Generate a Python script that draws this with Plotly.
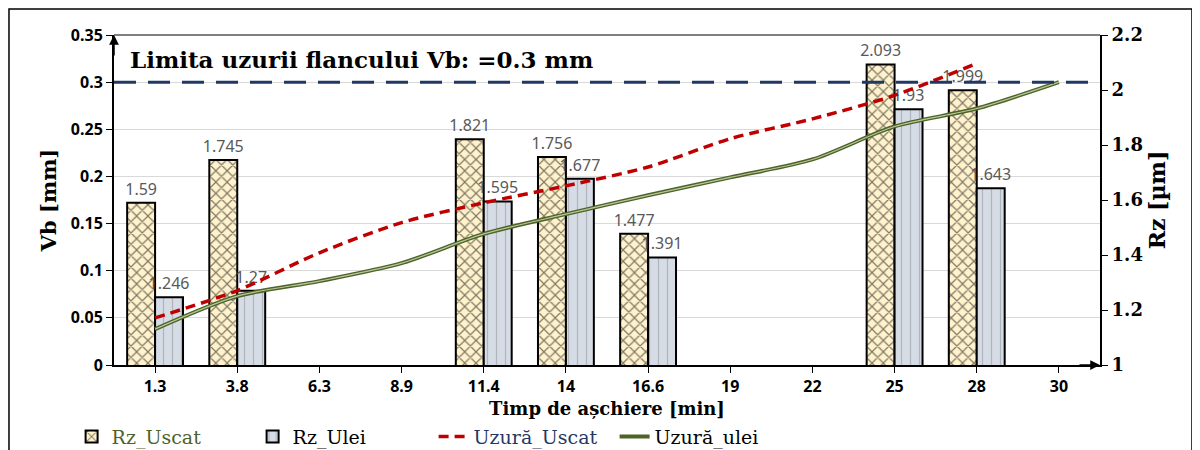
import plotly.graph_objects as go

categories = ["1.3", "3.8", "6.3", "8.9", "11.4", "14", "16.6", "19", "22", "25", "28", "30"]
rz_uscat = [1.59, 1.745, None, None, 1.821, 1.756, 1.477, None, None, 2.093, 1.999, None]
rz_ulei = [1.246, 1.27, None, None, 1.595, 1.677, 1.391, None, None, 1.93, 1.643, None]
uzura_uscat = [0.05, 0.079, 0.119, 0.151, 0.172, 0.19, 0.21, 0.24, 0.261, 0.286, 0.32, None]
uzura_ulei = [0.038, 0.073, 0.089, 0.108, 0.139, 0.16, 0.18, 0.199, 0.218, 0.253, 0.272, 0.30]
vb_limit = 0.3

SERIF = "DejaVu Serif"
SANS = "Noto Sans"

fig = go.Figure()

fig.add_trace(go.Bar(
    x=categories, y=rz_uscat, yaxis="y2",
    name="<span style='color:#4F6228'>Rz_Uscat</span>",
    marker=dict(color="#FFF2CC", line=dict(color="black", width=2),
                pattern=dict(shape="x", fgcolor="black", bgcolor="#FFF2CC", size=8, solidity=0.28)),
    text=[("%g" % v) if v is not None else "" for v in rz_uscat],
    textposition="outside", cliponaxis=False, constraintext="none",
    textfont=dict(family=SANS, size=16, color="#595959"),
))
fig.add_trace(go.Bar(
    x=categories, y=rz_ulei, yaxis="y2",
    name="Rz_Ulei",
    marker=dict(color="#D6DCE5", line=dict(color="black", width=2),
                pattern=dict(shape="|", fgcolor="#8C8C8C", bgcolor="#D6DCE5", size=9, solidity=0.14)),
    text=[("%g" % v) if v is not None else "" for v in rz_ulei],
    textposition="outside", cliponaxis=False, constraintext="none",
    textfont=dict(family=SANS, size=16, color="#595959"),
))
fig.add_trace(go.Scatter(
    x=categories, y=uzura_uscat, yaxis="y", mode="lines",
    name="<span style='color:#1F3864'>Uzură_Uscat</span>",
    line=dict(color="#C00000", width=3.5, dash="10px,6px", shape="spline", smoothing=0.8),
))
fig.add_trace(go.Scatter(
    x=categories, y=uzura_ulei, yaxis="y", mode="lines",
    name="Uzură_ulei",
    line=dict(color="#4F6228", width=4, shape="spline", smoothing=0.8),
))
fig.add_trace(go.Scatter(
    x=categories, y=uzura_ulei, yaxis="y", mode="lines",
    showlegend=False, hoverinfo="skip",
    line=dict(color="#B5C99A", width=1.2, shape="spline", smoothing=0.8),
))

fig.update_layout(
    width=1186, height=442,
    margin=dict(l=106, r=94, t=27, b=85, autoexpand=False),
    paper_bgcolor="white", plot_bgcolor="white",
    barmode="group", bargap=0.32, bargroupgap=0,
    xaxis=dict(
        type="category", showline=True, linecolor="black", linewidth=2,
        ticks="outside", ticklen=6, tickcolor="black", automargin=False,
        tickfont=dict(family=SANS, size=16, color="black", weight="bold"),
        title=dict(text="Timp de așchiere [min]", standoff=6,
                   font=dict(family=SERIF, size=18, color="black", weight="bold")),
    ),
    yaxis2=dict(
        range=[1, 2.2], dtick=0.2, side="right", anchor="x", automargin=False,
        showline=True, linecolor="black", linewidth=2,
        ticks="outside", ticklen=6, tickcolor="black", showgrid=False, zeroline=False,
        tickfont=dict(family=SERIF, size=18, color="black", weight="bold"),
        title=dict(text="Rz [µm]", standoff=8,
                   font=dict(family=SERIF, size=22, color="black", weight="bold")),
    ),
    yaxis=dict(
        range=[0, 0.35], dtick=0.05, overlaying="y2", side="left", automargin=False,
        showline=True, linecolor="black", linewidth=2,
        ticks="outside", ticklen=6, tickcolor="black",
        showgrid=True, gridcolor="#D9D9D9", gridwidth=1, zeroline=False,
        tickfont=dict(family=SANS, size=16, color="black", weight="bold"),
        title=dict(text="Vb [mm]", standoff=8,
                   font=dict(family=SERIF, size=21, color="black", weight="bold")),
    ),
    legend=dict(
        orientation="h", x=-0.043, xanchor="left", y=-0.275, yanchor="bottom",
        font=dict(family=SERIF, size=19, color="black"),
        entrywidth=136, bgcolor="rgba(0,0,0,0)",
    ),
    showlegend=True,
)

# limit line at Vb = 0.3
fig.add_shape(type="line", xref="paper", yref="y", x0=0, x1=1, y0=vb_limit, y1=vb_limit,
              line=dict(color="#1F3864", width=3, dash="22px,12px"), layer="above")
# top border of plot area
fig.add_shape(type="line", xref="paper", yref="paper", x0=0, x1=1, y0=1, y1=1,
              line=dict(color="black", width=1))
# outer chart frame
fig.add_shape(type="rect", xref="paper", yref="paper", x0=-0.1065, x1=1.0933, y0=-0.35, y1=1.0788,
              line=dict(color="black", width=1.5), fillcolor="rgba(0,0,0,0)")

fig.add_annotation(text="Limita uzurii flancului Vb: =0.3 mm", xref="paper", yref="y",
                   x=0.014, y=0.3235, xanchor="left", yanchor="middle", showarrow=False,
                   font=dict(family=SERIF, size=23, color="black", weight="bold"))
# axis arrows
fig.add_annotation(text="", xref="paper", yref="paper", x=0, y=1.0, ax=0, ay=22,
                   showarrow=True, arrowhead=2, arrowsize=1.3, arrowwidth=1.5, arrowcolor="black")
fig.add_annotation(text="", xref="paper", yref="paper", x=1.0, y=0, ax=-22, ay=0,
                   showarrow=True, arrowhead=2, arrowsize=1.3, arrowwidth=1.5, arrowcolor="black")

fig.write_html("out.html")
